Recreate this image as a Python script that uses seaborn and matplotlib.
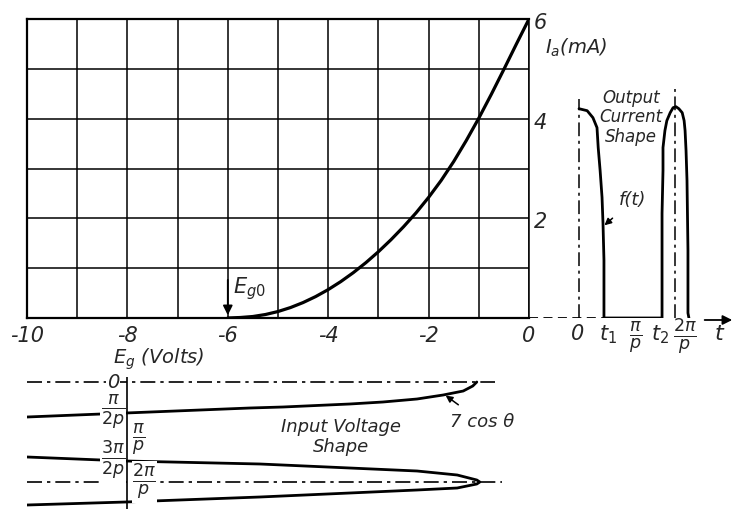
import numpy as np
import pandas as pd
import matplotlib
matplotlib.use("Agg")
import matplotlib.pyplot as plt
import seaborn as sns

# grid voltage / plate current characteristic
grid_volts = [-6.0, -5.75, -5.5, -5.25, -5.0, -4.75, -4.5, -4.25, -4.0, -3.75, -3.5, -3.25,
              -3.0, -2.75, -2.5, -2.25, -2.0, -1.75, -1.5, -1.25, -1.0, -0.75, -0.5, -0.25, 0.0]
plate_ma = [0.0, 0.01, 0.03, 0.07, 0.13, 0.21, 0.31, 0.43, 0.57, 0.73, 0.91, 1.11,
            1.33, 1.57, 1.83, 2.11, 2.42, 2.76, 3.14, 3.56, 4.01, 4.49, 4.99, 5.5, 6.0]

# output current shape, time in units of pi/p
out_t = [0.0, 0.17, 0.29, 0.375, 0.40, 0.44, 0.48, 0.50, 0.52, 0.52, 1.73, 1.73, 1.75, 1.75,
         1.79, 1.83, 1.90, 1.96, 2.02, 2.08, 2.15, 2.19, 2.21, 2.23, 2.25, 2.27, 2.27, 2.29]
out_ma = [4.2, 4.16, 4.02, 3.82, 3.42, 2.96, 2.42, 1.9, 1.16, 0.0, 0.0, 2.1, 2.96, 3.42,
          3.76, 3.96, 4.12, 4.22, 4.24, 4.2, 4.12, 3.96, 3.76, 3.36, 2.76, 1.36, 0.1, 0.0]

# input voltage shape (time runs downwards), time in units of pi/p
in_eg_a = [-1.04, -1.12, -1.31, -1.71, -2.23, -2.91, -3.57, -4.90, -5.56, -8.03, -10.0]
in_t_a = [0.0, 0.08, 0.18, 0.26, 0.34, 0.40, 0.44, 0.50, 0.52, 0.62, 0.70]
in_eg_b = [-10.0, -8.03, -5.36, -3.57, -2.23, -1.43, -1.04, -0.98, -1.04, -1.43, -2.23, -3.57, -5.36, -8.03, -10.0]
in_t_b = [1.50, 1.58, 1.64, 1.72, 1.78, 1.86, 1.96, 2.0, 2.04, 2.12, 2.16, 2.22, 2.30, 2.40, 2.46]

x_ticks = list(range(-10, 1))
x_labels = ["-10", "", "-8", "", "-6", "", "-4", "", "-2", "", "0"]
ia_labels = ["2", "4", "6"]

sns.set_style("white")
plt.rcParams['font.family'] = ['DejaVu Sans']
plt.rcParams['mathtext.fontset'] = 'dejavusans'

W, H = 735, 509
fig = plt.figure(figsize=(W / 100, H / 100), dpi=100)

# main characteristic grid
ax = fig.add_axes([27 / W, 1 - 318 / H, 502 / W, 299 / H])
ax.set_xlim(-10, 0)
ax.set_ylim(0, 6)
ax.set_xticks(x_ticks)
ax.set_xticklabels(x_labels, fontsize=15, fontstyle='italic')
ax.set_yticks(range(0, 7))
ax.set_yticklabels([])
ax.tick_params(length=0, pad=6)
ax.grid(True, color='black', lw=1.1)
for s in ax.spines.values():
    s.set_color('black')
    s.set_linewidth(1.6)
ax.spines['right'].set_linewidth(1.1)
sns.lineplot(x=grid_volts, y=plate_ma, ax=ax, color='black', lw=2.3, sort=False, estimator=None)

ax.annotate("", xy=(-6, 0.0), xytext=(-6, 0.82),
            arrowprops=dict(arrowstyle='-|>', color='black', lw=1.3, mutation_scale=14))
ax.text(-5.56, 0.6, r"$E_{g0}$", fontsize=15, ha='center', va='center')
ax.text(-7.37, -0.82, r"$E_g$ (Volts)", fontsize=14, fontstyle='italic', ha='center', va='center',
        clip_on=False)

# output current panel
ax2 = fig.add_axes([529 / W, 1 - 318 / H, 206 / W, 299 / H])
ax2.set_xlim(-50 / 48, 156 / 48)
ax2.set_ylim(0, 6)
ax2.axis('off')
ax2.patch.set_alpha(0)
dd = (0, (9, 3, 2, 3))
ax2.plot([-50 / 48, 0.52], [0, 0], color='black', lw=1.3, ls=(0, (5, 3)))
ax2.plot([0, 0], [0, 4.4], color='black', lw=1.1, ls=dd)
ax2.plot([2, 2], [0, 4.6], color='black', lw=1.1, ls=dd)
sns.lineplot(x=out_t, y=out_ma, ax=ax2, color='black', lw=2.0, sort=False, estimator=None)
ax2.annotate("", xy=(3.25, -0.04), xytext=(2.56, -0.04),
             arrowprops=dict(arrowstyle='-|>', color='black', lw=1.3, mutation_scale=14),
             annotation_clip=False)
for v, lab in zip([1.92, 3.92, 5.92], ia_labels):
    ax2.text(-0.94, v, lab, fontsize=15, fontstyle='italic', ha='left', va='center')
ax2.text(-0.06, 5.42, r"$I_a$(mA)", fontsize=14, fontstyle='italic', ha='center', va='center')
ax2.text(1.08, 4.03, "Output\nCurrent\nShape", fontsize=12, fontstyle='italic', ha='center',
         va='center', linespacing=1.1)
ax2.annotate("f(t)", xy=(0.53, 1.86), xytext=(1.12, 2.36), fontsize=13, fontstyle='italic',
             ha='center', va='center',
             arrowprops=dict(arrowstyle='-|>', color='black', lw=1.1, mutation_scale=10,
                             shrinkA=6, shrinkB=0))
lab_y = -0.33
ax2.text(-0.02, lab_y, "0", fontsize=15, fontstyle='italic', ha='center', va='center')
ax2.text(0.6, lab_y, r"$t_1$", fontsize=15, ha='center', va='center')
ax2.text(1.17, lab_y - 0.06, r"$\frac{\pi}{p}$", fontsize=18, ha='center', va='center')
ax2.text(1.69, lab_y, r"$t_2$", fontsize=15, ha='center', va='center')
ax2.text(2.21, lab_y - 0.06, r"$\frac{2\pi}{p}$", fontsize=18, ha='center', va='center')
ax2.text(2.94, lab_y, r"$t$", fontsize=16, ha='center', va='center')

# input voltage panel
ax3 = fig.add_axes([27 / W, 0, 502 / W, (509 - 377) / H])
ax3.set_xlim(-10, 0)
ax3.set_ylim(2.54, -0.1)
ax3.axis('off')
ax3.patch.set_alpha(0)
ax3.plot([-10, -0.68], [0, 0], color='black', lw=1.2, ls=dd, clip_on=False)
ax3.plot([-10, -0.54], [2, 2], color='black', lw=1.2, ls=dd, clip_on=False)
ax3.plot([-8, -8], [-0.1, 2.54], color='black', lw=1.2)
sns.lineplot(x=in_eg_a, y=in_t_a, ax=ax3, color='black', lw=2.0, sort=False, estimator=None)
sns.lineplot(x=in_eg_b, y=in_t_b, ax=ax3, color='black', lw=2.0, sort=False, estimator=None)
box = dict(facecolor='white', edgecolor='none', pad=0.5)
ax3.text(-8.28, 0.02, "0", fontsize=14, fontstyle='italic', ha='center', va='center', bbox=box)
ax3.text(-8.05, 0.6, r"$\frac{\pi}{2p}$", fontsize=18, ha='right', va='center', bbox=box)
ax3.text(-7.9, 1.16, r"$\frac{\pi}{p}$", fontsize=18, ha='left', va='center')
ax3.text(-8.05, 1.58, r"$\frac{3\pi}{2p}$", fontsize=18, ha='right', va='center', bbox=box)
ax3.text(-7.9, 2.0, r"$\frac{2\pi}{p}$", fontsize=18, ha='left', va='center', bbox=box)
ax3.text(-3.74, 1.1, "Input Voltage\nShape", fontsize=13, fontstyle='italic', ha='center',
         va='center', linespacing=1.1)
ax3.annotate("7 cos θ", xy=(-1.66, 0.27), xytext=(-0.94, 0.80), fontsize=13, fontstyle='italic',
             ha='center', va='center', annotation_clip=False,
             arrowprops=dict(arrowstyle='-|>', color='black', lw=1.1, mutation_scale=10,
                             shrinkA=6, shrinkB=0))

fig.savefig("out.png", dpi=100)
